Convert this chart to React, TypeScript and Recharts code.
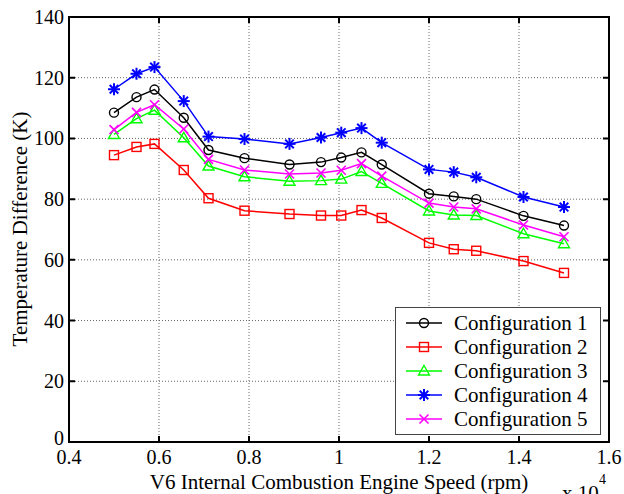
import React from 'react';
import { LineChart, Line, XAxis, YAxis, CartesianGrid } from 'recharts';

const rpm = [0.5, 0.55, 0.59, 0.655, 0.71, 0.79, 0.89, 0.96, 1.005, 1.05, 1.095, 1.2, 1.255, 1.305, 1.41, 1.5];

const config1 = [108.5, 113.6, 116.1, 106.8, 96.2, 93.5, 91.4, 92.2, 93.7, 95.4, 91.4, 81.8, 80.9, 80.0, 74.5, 71.3];
const config2 = [94.5, 97.2, 98.2, 89.6, 80.3, 76.2, 75.1, 74.6, 74.6, 76.4, 73.8, 65.6, 63.5, 63.0, 59.6, 55.7];
const config3 = [101.3, 106.5, 109.3, 100.2, 90.9, 87.4, 85.9, 86.1, 86.6, 89.1, 85.2, 76.1, 74.8, 74.6, 68.6, 65.3];
const config4 = [116.2, 121.3, 123.5, 112.3, 100.6, 99.8, 98.2, 100.3, 101.9, 103.4, 98.6, 89.8, 88.9, 87.2, 80.7, 77.4];
const config5 = [102.9, 108.6, 111.1, 103.1, 93.1, 89.6, 88.3, 88.6, 89.5, 91.7, 87.6, 78.7, 77.4, 76.8, 71.5, 67.6];

const xTicks = [0.4, 0.6, 0.8, 1, 1.2, 1.4, 1.6];
const yTicks = [0, 20, 40, 60, 80, 100, 120, 140];

const FONT = '"Liberation Serif", "Times New Roman", serif';

// plot box (set by margins + axis sizes below)
const M = { top: 17, right: 15, bottom: 2, left: 0 };
const Y_W = 69;
const X_H = 50;
const W = 624;
const H = 494;
const PLOT_TOP = M.top;
const PLOT_RIGHT = W - M.right;
const PLOT_LEFT = M.left + Y_W;
const PLOT_BOTTOM = H - M.bottom - X_H;

const series = [
  { key: 'c1', name: 'Configuration 1', color: '#000000', marker: 'circle', values: config1 },
  { key: 'c2', name: 'Configuration 2', color: '#ff0000', marker: 'square', values: config2 },
  { key: 'c3', name: 'Configuration 3', color: '#00ff00', marker: 'triangle', values: config3 },
  { key: 'c4', name: 'Configuration 4', color: '#0000ff', marker: 'star', values: config4 },
  { key: 'c5', name: 'Configuration 5', color: '#ff00ff', marker: 'cross', values: config5 },
];

const data = rpm.map((x, i) => {
  const row: any = { x };
  series.forEach((s) => (row[s.key] = s.values[i]));
  return row;
});

function Marker({ type, cx, cy, color }: { type: string; cx: number; cy: number; color: string }) {
  if (type === 'circle') return <circle cx={cx} cy={cy} r={4.5} fill="none" stroke={color} strokeWidth={1.4} />;
  if (type === 'square') return <rect x={cx - 4.5} y={cy - 4.5} width={9} height={9} fill="none" stroke={color} strokeWidth={1.4} />;
  if (type === 'triangle')
    return <polygon points={`${cx},${cy - 5.5} ${cx + 5.5},${cy + 4} ${cx - 5.5},${cy + 4}`} fill="none" stroke={color} strokeWidth={1.4} />;
  if (type === 'star') {
    const r = 6;
    return (
      <g stroke={color} strokeWidth={2}>
        <line x1={cx - r} y1={cy} x2={cx + r} y2={cy} />
        <line x1={cx} y1={cy - r} x2={cx} y2={cy + r} />
        <line x1={cx - 4.3} y1={cy - 4.3} x2={cx + 4.3} y2={cy + 4.3} />
        <line x1={cx - 4.3} y1={cy + 4.3} x2={cx + 4.3} y2={cy - 4.3} />
      </g>
    );
  }
  return (
    <g stroke={color} strokeWidth={1.6}>
      <line x1={cx - 4.5} y1={cy - 4.5} x2={cx + 4.5} y2={cy + 4.5} />
      <line x1={cx - 4.5} y1={cy + 4.5} x2={cx + 4.5} y2={cy - 4.5} />
    </g>
  );
}

const makeDot = (type: string, color: string) => (props: any) => {
  const { cx, cy, index } = props;
  return <Marker key={`${type}-${index}`} type={type} cx={cx} cy={cy} color={color} />;
};

// MATLAB style: ticks point inwards, on bottom+top and left+right
const XTick = (props: any) => {
  const { x, payload } = props;
  return (
    <g>
      <path d={`M${x},${PLOT_BOTTOM}V${PLOT_BOTTOM - 6}M${x},${PLOT_TOP}V${PLOT_TOP + 6}`} stroke="#000" strokeWidth={2} fill="none" />
      <text x={x} y={PLOT_BOTTOM + 22} textAnchor="middle" fontSize={20} fontFamily={FONT} fill="#000">
        {payload.value}
      </text>
    </g>
  );
};
const YTick = (props: any) => {
  const { y, payload } = props;
  return (
    <g>
      <path d={`M${PLOT_LEFT},${y}H${PLOT_LEFT + 6}M${PLOT_RIGHT},${y}H${PLOT_RIGHT - 6}`} stroke="#000" strokeWidth={2} fill="none" />
      <text x={PLOT_LEFT - 5} y={payload.value === 0 ? y + 3 : y + 7} textAnchor="end" fontSize={20} fontFamily={FONT} fill="#000">
        {payload.value}
      </text>
    </g>
  );
};

const LegendBox = () => (
  <div
    style={{
      position: 'absolute',
      left: 395,
      top: 307,
      border: '1px solid #444',
      background: '#fff',
      width: 204,
      padding: '3px 0',
      fontFamily: FONT,
      fontSize: 21,
      color: '#000',
      lineHeight: '24px',
    }}
  >
    {series.map((s) => (
      <div key={s.key} style={{ display: 'flex', alignItems: 'center', height: 24 }}>
        <svg width={52} height={20} style={{ marginLeft: 2 }}>
          <line x1={8} y1={10} x2={44} y2={10} stroke={s.color} strokeWidth={1.5} />
          <Marker type={s.marker} cx={26} cy={10} color={s.color} />
        </svg>
        <span style={{ marginLeft: 4 }}>{s.name}</span>
      </div>
    ))}
  </div>
);

export default function App() {
  return (
    <div style={{ position: 'fixed', left: 0, top: 0, width: W, height: H, background: '#fff' }}>
      <LineChart width={W} height={H} data={data} margin={M}>
        <CartesianGrid stroke="#666" strokeWidth={1} strokeDasharray="1 2" />
        <XAxis
          dataKey="x"
          type="number"
          domain={[0.4, 1.6]}
          ticks={xTicks}
          height={X_H}
          tick={XTick}
          axisLine={{ stroke: '#000', strokeWidth: 2 }}
          tickLine={false}
          label={() => (
            <text x={339} y={489} textAnchor="middle" fontSize={21} fontFamily={FONT} fill="#000">
              V6 Internal Combustion Engine Speed (rpm)
            </text>
          )}
        />
        <YAxis
          type="number"
          domain={[0, 140]}
          ticks={yTicks}
          width={Y_W}
          tick={YTick}
          axisLine={{ stroke: '#000', strokeWidth: 2 }}
          tickLine={false}
          label={() => (
            <text
              x={27}
              y={229}
              transform="rotate(-90 27 229)"
              textAnchor="middle"
              fontSize={21}
              fontFamily={FONT}
              fill="#000"
            >
              Temperature Difference (K)
            </text>
          )}
        />
        {series.map((s) => (
          <Line
            key={s.key}
            dataKey={s.key}
            name={s.name}
            stroke={s.color}
            strokeWidth={1.5}
            dot={makeDot(s.marker, s.color)}
            isAnimationActive={false}
          />
        ))}
        <rect
          x={PLOT_LEFT}
          y={PLOT_TOP}
          width={PLOT_RIGHT - PLOT_LEFT}
          height={PLOT_BOTTOM - PLOT_TOP}
          fill="none"
          stroke="#000"
          strokeWidth={2}
        />
        <text x={562} y={500} fontSize={21} fontFamily={FONT} fill="#000">
          x 10
        </text>
        <text x={599} y={484} fontSize={14} fontFamily={FONT} fill="#000">
          4
        </text>
      </LineChart>
      <LegendBox />
    </div>
  );
}
